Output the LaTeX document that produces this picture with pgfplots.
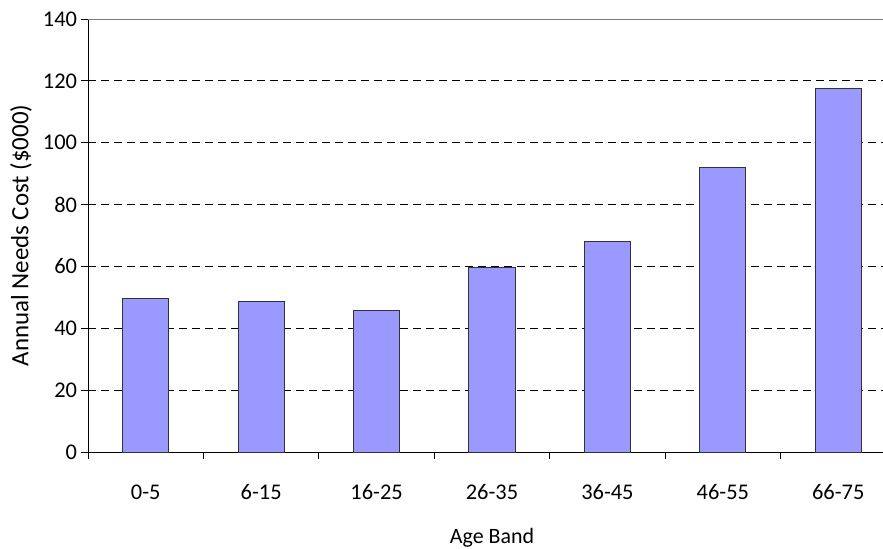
\documentclass[border=0pt]{standalone}
\usepackage{pgfplots}
\pgfplotsset{compat=1.18}
\usepackage{fontspec}
\setmainfont{Carlito}
\definecolor{barfill}{HTML}{9999FF}
\definecolor{baredge}{HTML}{333333}
\begin{document}
\begin{tikzpicture}
\begin{axis}[
  at={(0,0)}, anchor=south west,
  scale only axis, width=808bp, height=433bp,
  xmin=-0.5, xmax=6.5, ymin=0, ymax=140,
  axis x line*=bottom, axis y line*=left,
  axis line style={black, line width=0.8bp, -},
  xtick={-0.5,0.5,...,6.5},
  x tick label as interval,
  xticklabels={0-5,6-15,16-25,26-35,36-45,46-55,66-75},
  ytick={0,20,...,140},
  tick align=outside,
  major tick length=6.5bp,
  tick style={black, line width=0.8bp},
  ymajorgrids,
  grid style={black, line width=0.8bp, dash pattern=on 8bp off 5bp},
  /pgf/number format/assume math mode=true,
  tick label style={font=\fontsize{22.5}{27}\selectfont},
  xticklabel style={anchor=base, yshift=-41bp},
  yticklabel style={anchor=east, xshift=-1bp},
  xlabel={Age Band},
  ylabel={Annual Needs Cost (\$000)},
  every axis x label/.style={at={(axis description cs:0.5,-0.2102)}, anchor=base, font=\fontsize{22}{26}\selectfont},
  every axis y label/.style={at={(axis description cs:-0.0829,0.5)}, rotate=90, anchor=center, font=\fontsize{25}{30}\selectfont},
  clip=false,
]
\addplot[ybar, bar width=0.4, fill=barfill, draw=baredge, line width=0.9bp] coordinates {
  (0,49.5) (1,48.6) (2,45.8) (3,59.7) (4,68.2) (5,91.9) (6,117.4)
};
\draw[gray, line width=0.9bp] (rel axis cs:0,1) -- (rel axis cs:1,1);
\end{axis}
\pgfresetboundingbox
\useasboundingbox (-88bp,-97bp) rectangle (795bp,452bp);
\end{tikzpicture}
\end{document}
